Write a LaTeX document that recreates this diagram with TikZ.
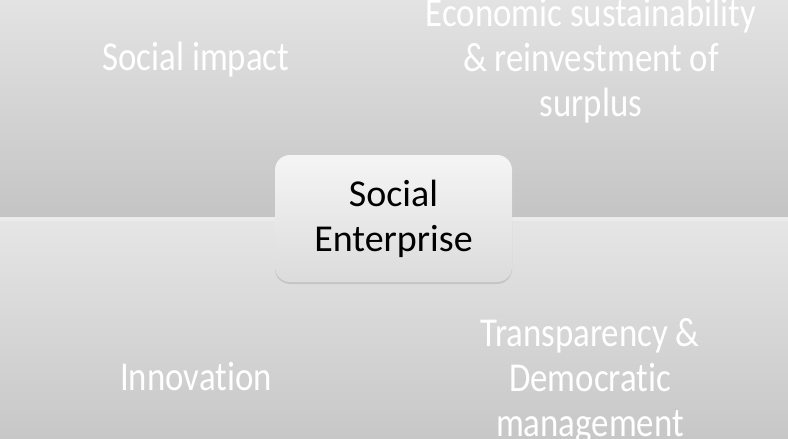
\documentclass[tikz,border=0pt]{standalone}
\usepackage{fontspec}
\setmainfont{Carlito}[Ligatures=NoCommon]
\newfontfamily\quadfont{Carlito}[FakeStretch=0.85,Ligatures=NoCommon]
\usetikzlibrary{shadows}

\begin{document}
\begin{tikzpicture}[x=1pt,y=-1pt,
	quadtext/.style={text=white,align=center,inner sep=0pt,font=\quadfont\fontsize{41}{45}\selectfont},
	hubbox/.style={rounded corners=15pt,top color=gray!8,bottom color=gray!28,
		drop shadow={shadow xshift=0pt,shadow yshift=-2pt,opacity=0.25},
		minimum width=237pt,minimum height=127pt,inner sep=0pt,align=center,
		font=\fontsize{38}{45}\selectfont}]
	\useasboundingbox (0,0) rectangle (788,439);

	% background bands
	\shade[top color=gray!22,bottom color=gray!46] (0,0) rectangle (788,217);
	\fill[gray!16] (0,217) rectangle (788,221);
	\shade[top color=gray!20,bottom color=gray!44] (0,221) rectangle (788,439);

	% quadrant texts (base = last line)
	\node[quadtext,anchor=base] (impact) at (196,70) {Social impact};
	\node[quadtext,anchor=base] (econ)   at (591,116) {Economic sustainability\\ \& reinvestment of\\ surplus};
	\node[quadtext,anchor=base] (innov)  at (196,390) {Innovation};
	\node[quadtext,anchor=base] (transp) at (590,436) {Transparency \&\\ Democratic\\ management};

	% centre
	\node[hubbox] (se) at (393.5,218.5) {Social\\ Enterprise};
\end{tikzpicture}
\end{document}
